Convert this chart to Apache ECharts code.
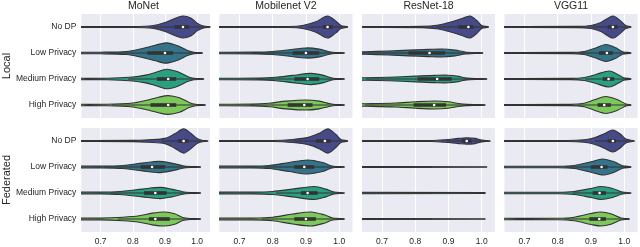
<!DOCTYPE html>
<html>
<head>
<meta charset="utf-8">
<script src="https://cdn.jsdelivr.net/npm/echarts@6/dist/echarts.min.js"></script>
<style>
html,body{margin:0;padding:0;background:#fff;}
#chart{width:640px;height:247px;}
</style>
</head>
<body>
<div id="chart"></div>
<script>
// ---------- DATA ----------
const models = ['MoNet', 'Mobilenet V2', 'ResNet-18', 'VGG11'];
const settings = ['Local', 'Federated'];
const privacy = ['No DP', 'Low Privacy', 'Medium Privacy', 'High Privacy'];
const xTicks = [0.7, 0.8, 0.9, 1.0];

// violin density profiles: [accuracy, relative half-width] (per privacy level)
const monetLocalShape = [
  [[0.55,0.03],[0.8,0.04],[0.86,0.1],[0.9,0.35],[0.93,0.65],[0.955,0.85],[0.98,0.7],[1.0,0.3],[1.02,0.08],[1.04,0.02]],
  [[0.55,0.04],[0.7,0.06],[0.78,0.12],[0.83,0.35],[0.87,0.6],[0.905,0.78],[0.94,0.55],[0.97,0.2],[0.99,0.06],[1.016,0.02]],
  [[0.55,0.04],[0.72,0.06],[0.8,0.15],[0.84,0.3],[0.87,0.5],[0.905,0.75],[0.94,0.55],[0.97,0.2],[0.99,0.06],[1.02,0.02]],
  [[0.55,0.04],[0.72,0.06],[0.8,0.15],[0.84,0.35],[0.88,0.6],[0.91,0.72],[0.945,0.55],[0.975,0.2],[0.995,0.06],[1.025,0.02]]
];
const mobilenetLocalShape = [
  [[0.55,0.03],[0.85,0.04],[0.89,0.12],[0.93,0.4],[0.965,0.85],[0.99,0.45],[1.005,0.12],[1.025,0.02]],
  [[0.55,0.04],[0.75,0.07],[0.8,0.12],[0.85,0.25],[0.9,0.39],[0.94,0.3],[0.97,0.1],[0.99,0.04],[1.015,0.02]],
  [[0.55,0.04],[0.76,0.07],[0.81,0.13],[0.86,0.28],[0.915,0.43],[0.95,0.3],[0.975,0.1],[0.99,0.04],[1.015,0.02]],
  [[0.55,0.04],[0.74,0.07],[0.79,0.14],[0.84,0.3],[0.9,0.39],[0.94,0.3],[0.97,0.12],[0.99,0.04],[1.015,0.02]]
];
const resnetLocalShape = [
  [[0.55,0.03],[0.82,0.05],[0.87,0.15],[0.91,0.4],[0.94,0.65],[0.965,0.85],[0.985,0.5],[1.0,0.12],[1.02,0.02]],
  [[0.55,0.06],[0.65,0.1],[0.72,0.15],[0.78,0.22],[0.84,0.28],[0.88,0.31],[0.92,0.22],[0.95,0.08],[0.98,0.03],[1.003,0.02]],
  [[0.55,0.06],[0.65,0.1],[0.72,0.14],[0.8,0.22],[0.86,0.28],[0.9,0.29],[0.93,0.2],[0.955,0.07],[0.985,0.03],[1.015,0.02]],
  [[0.55,0.06],[0.65,0.1],[0.74,0.15],[0.8,0.25],[0.86,0.31],[0.9,0.25],[0.93,0.12],[0.955,0.05],[0.985,0.03],[1.01,0.02]]
];
const vggLocalShape = [
  [[0.55,0.03],[0.86,0.05],[0.9,0.12],[0.93,0.35],[0.966,0.85],[0.99,0.45],[1.005,0.12],[1.02,0.02]],
  [[0.55,0.03],[0.84,0.05],[0.88,0.12],[0.91,0.35],[0.945,0.65],[0.975,0.4],[0.995,0.1],[1.02,0.02]],
  [[0.55,0.03],[0.84,0.05],[0.88,0.12],[0.915,0.35],[0.955,0.62],[0.98,0.35],[0.998,0.1],[1.02,0.02]],
  [[0.55,0.03],[0.84,0.05],[0.88,0.14],[0.91,0.4],[0.945,0.65],[0.98,0.4],[1.005,0.08],[1.02,0.02]]
];
const monetFedShape = [
  [[0.55,0.03],[0.8,0.05],[0.85,0.1],[0.9,0.2],[0.93,0.55],[0.958,0.93],[0.98,0.6],[1.0,0.2],[1.015,0.06],[1.033,0.02]],
  [[0.55,0.05],[0.7,0.07],[0.77,0.12],[0.83,0.3],[0.88,0.43],[0.92,0.3],[0.955,0.1],[0.98,0.04],[1.01,0.02]],
  [[0.55,0.05],[0.7,0.07],[0.76,0.12],[0.83,0.3],[0.885,0.43],[0.92,0.3],[0.955,0.1],[0.98,0.04],[1.01,0.02]],
  [[0.55,0.05],[0.7,0.07],[0.77,0.14],[0.82,0.25],[0.86,0.45],[0.9,0.54],[0.93,0.4],[0.955,0.12],[0.98,0.04],[1.01,0.02]]
];
const mobilenetFedShape = [
  [[0.55,0.03],[0.8,0.04],[0.86,0.12],[0.91,0.3],[0.94,0.6],[0.966,0.93],[0.99,0.5],[1.005,0.12],[1.025,0.02]],
  [[0.55,0.05],[0.74,0.07],[0.79,0.12],[0.85,0.35],[0.905,0.54],[0.95,0.35],[0.975,0.1],[0.99,0.04],[1.015,0.02]],
  [[0.55,0.05],[0.74,0.07],[0.8,0.12],[0.86,0.3],[0.925,0.5],[0.96,0.3],[0.985,0.08],[1.015,0.02]],
  [[0.55,0.05],[0.74,0.07],[0.8,0.14],[0.86,0.38],[0.915,0.54],[0.955,0.32],[0.98,0.08],[1.015,0.02]]
];
const resnetFedShape = [
  [[0.55,0.03],[0.85,0.04],[0.89,0.1],[0.93,0.2],[0.955,0.25],[0.98,0.2],[1.0,0.07],[1.025,0.02]],
  [[0.3,0.03],[1.015,0.02]],
  [[0.3,0.05],[1.01,0.03]],
  [[0.3,0.03],[1.01,0.02]]
];
const vggFedShape = [
  [[0.55,0.03],[0.83,0.04],[0.88,0.1],[0.91,0.25],[0.94,0.55],[0.966,0.85],[0.99,0.5],[1.005,0.15],[1.03,0.02]],
  [[0.55,0.04],[0.8,0.06],[0.85,0.12],[0.9,0.4],[0.935,0.62],[0.97,0.4],[0.995,0.1],[1.02,0.02]],
  [[0.55,0.04],[0.8,0.06],[0.85,0.12],[0.9,0.35],[0.93,0.5],[0.965,0.35],[0.995,0.08],[1.02,0.02]],
  [[0.55,0.04],[0.8,0.06],[0.85,0.14],[0.9,0.42],[0.93,0.54],[0.96,0.4],[0.99,0.08],[1.015,0.02]]
];

// inner box: [q1, median, q3]
const monetLocalBox = [[0.93,0.956,0.975],[0.845,0.9,0.925],[0.875,0.91,0.935],[0.855,0.91,0.935]];
const mobilenetLocalBox = [[0.95,0.965,0.98],[0.86,0.9,0.94],[0.865,0.905,0.94],[0.845,0.895,0.92]];
const resnetLocalBox = [[0.93,0.96,0.975],[0.78,0.843,0.89],[0.807,0.866,0.91],[0.795,0.857,0.893]];
const vggLocalBox = [[0.95,0.966,0.98],[0.924,0.948,0.966],[0.935,0.953,0.97],[0.92,0.94,0.96]];
const monetFedBox = [[0.94,0.958,0.973],[0.824,0.86,0.9],[0.835,0.87,0.905],[0.85,0.87,0.915]];
const mobilenetFedBox = [[0.93,0.957,0.975],[0.865,0.895,0.925],[0.885,0.905,0.935],[0.865,0.9,0.93]];
const resnetFedBox = [[0.94,0.955,0.97],[0.35,0.45,0.55],[0.35,0.45,0.55],[0.35,0.45,0.55]];
const vggFedBox = [[0.95,0.966,0.975],[0.9,0.932,0.95],[0.905,0.926,0.945],[0.895,0.925,0.945]];

// ---------- STYLE ----------
const colors = ['#464a88', '#33748a', '#2ba080', '#7cc85a'];
const outline = '#333333';
const textColor = '#262626';
const font = '"Liberation Sans", Arial, sans-serif';

const shapes = [
  [monetLocalShape, mobilenetLocalShape, resnetLocalShape, vggLocalShape],
  [monetFedShape, mobilenetFedShape, resnetFedShape, vggFedShape]
];
const boxes = [
  [monetLocalBox, mobilenetLocalBox, resnetLocalBox, vggLocalBox],
  [monetFedBox, mobilenetFedBox, resnetFedBox, vggFedBox]
];

const gridLefts = [77, 219.5, 362, 504.5];
const gridTops = [14, 128];
const gridW = 133, gridH = 104;

const grids = [], xAxes = [], yAxes = [], series = [], titles = [];

function makeRender(shape, box) {
  return function (params, api) {
    const i = params.dataIndex;
    const cat = api.value(1);
    const h = api.size([0, 1])[1] / 2;
    const cy = api.coord([1, cat])[1];
    const X = v => api.coord([v, cat])[0];
    const prof = shape[i];
    const top = prof.map(k => [X(k[0]), cy - k[1] * h]);
    const bot = prof.slice().reverse().map(k => [X(k[0]), cy + k[1] * h]);
    const q1 = box[i][0], med = box[i][1], q3 = box[i][2];
    const iqr = q3 - q1;
    const wLo = Math.max(prof[0][0], q1 - 1.5 * iqr);
    const wHi = Math.min(prof[prof.length - 1][0], q3 + 1.5 * iqr);
    return {
      type: 'group',
      children: [
        { type: 'polygon', shape: { points: top.concat(bot), smooth: 0.3 },
          style: { fill: colors[i], stroke: outline, lineWidth: 1.1 } },
        { type: 'line', shape: { x1: X(wLo), y1: cy, x2: X(wHi), y2: cy },
          style: { stroke: outline, lineWidth: 1 } },
        { type: 'line', shape: { x1: X(q1), y1: cy, x2: X(q3), y2: cy },
          style: { stroke: outline, lineWidth: 3.6 } },
        { type: 'circle', shape: { cx: X(med), cy: cy, r: 1.3 },
          style: { fill: '#ffffff' } }
      ]
    };
  };
}

for (let r = 0; r < 2; r++) {
  for (let c = 0; c < 4; c++) {
    const g = r * 4 + c;
    grids.push({
      left: gridLefts[c], top: gridTops[r], width: gridW, height: gridH,
      show: true, backgroundColor: '#EAEAF2', borderWidth: 0
    });
    xAxes.push({
      type: 'value', gridIndex: g, min: 0.64, max: 1.04, splitNumber: 4,
      axisLine: { show: false }, axisTick: { show: false },
      axisLabel: {
        show: r === 1, showMinLabel: false, showMaxLabel: false,
        color: textColor, fontSize: 8.5, fontFamily: font, margin: 5,
        formatter: v => (xTicks.some(t => Math.abs(t - v) < 1e-6) ? v.toFixed(1) : '')
      },
      splitLine: { show: true, showMinLine: false, showMaxLine: false,
        lineStyle: { color: '#ffffff', width: 1 } }
    });
    yAxes.push({
      type: 'category', gridIndex: g, data: privacy, inverse: true,
      axisLine: { show: false }, axisTick: { show: false },
      splitLine: { show: false },
      axisLabel: { show: c === 0, color: textColor, fontSize: 8.5, fontFamily: font, margin: 5 },
      name: c === 0 ? settings[r] : '',
      nameLocation: 'middle', nameRotate: 90, nameGap: 67,
      nameTextStyle: { color: textColor, fontSize: 11, fontFamily: font }
    });
    series.push({
      type: 'custom', xAxisIndex: g, yAxisIndex: g, clip: true,
      renderItem: makeRender(shapes[r][c], boxes[r][c]),
      data: privacy.map((p, i) => [boxes[r][c][i][1], i]),
      encode: { x: 0, y: 1 },
      silent: true, animation: false
    });
  }
}
for (let c = 0; c < 4; c++) {
  titles.push({
    text: models[c], left: gridLefts[c] + gridW / 2, top: 1, textAlign: 'center', padding: 0,
    textStyle: { color: textColor, fontSize: 10.5, fontWeight: 'normal', fontFamily: font }
  });
}

const chart = echarts.init(document.getElementById('chart'), null, { renderer: 'canvas' });
chart.setOption({
  animation: false,
  backgroundColor: '#ffffff',
  title: titles,
  grid: grids,
  xAxis: xAxes,
  yAxis: yAxes,
  series: series
});
</script>
</body>
</html>
